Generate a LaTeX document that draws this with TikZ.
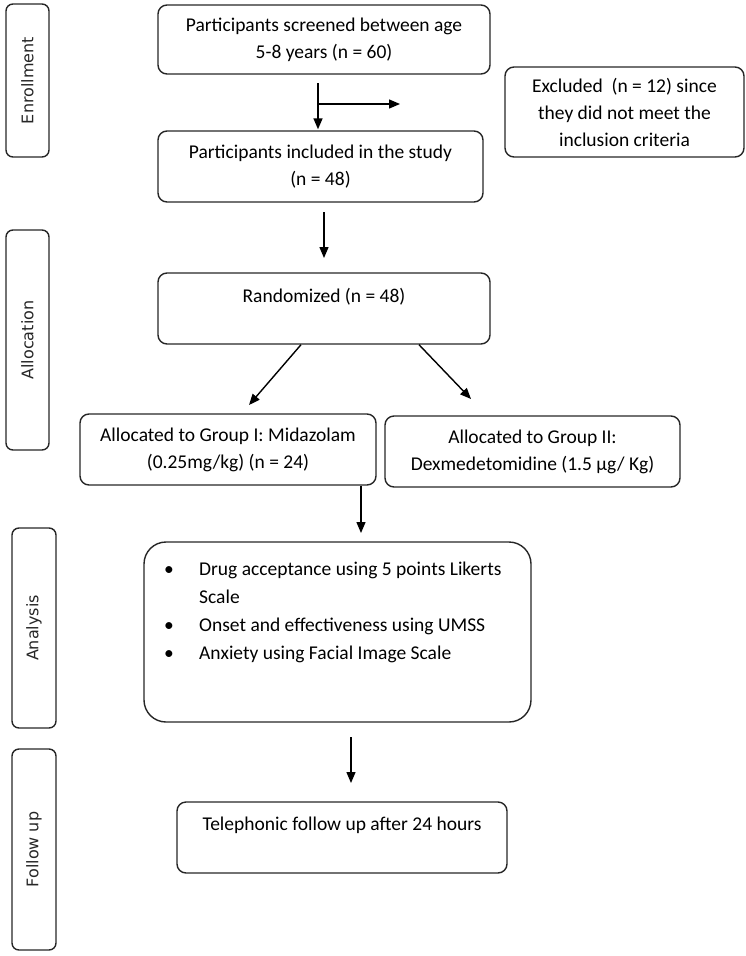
\documentclass[tikz,border=0pt]{standalone}
\usepackage{fontspec}
\setmainfont{Carlito}
\newfontfamily\sidefont{DejaVu Sans}
\usetikzlibrary{arrows.meta}
\begin{document}
\begin{tikzpicture}[x=1pt,y=-1pt,
  box/.style={draw=black!85, line width=1.4pt, rounded corners=9pt, align=center, inner sep=0pt,
    font=\fontsize{19.5}{27}\selectfont},
  side/.style={draw=black!85, line width=1.4pt, rounded corners=7pt, inner sep=0pt, rotate=90,
    font=\sidefont\fontsize{16}{18}\selectfont, text=black!85},
  arr/.style={line width=1.4pt, draw=black, -{Triangle[length=11pt,width=9pt]}}]
\useasboundingbox (0,0) rectangle (746,956);

% side labels
\node[side, minimum width=153pt, minimum height=43pt] (senr) at (27.5,80.5) {Enrollment};
\node[side, minimum width=220pt, minimum height=43pt] (sall) at (27.5,340) {Allocation};
\node[side, minimum width=200pt, minimum height=44pt] (sana) at (34,628) {Analysis};
\node[side, minimum width=201pt, minimum height=44pt] (sfol) at (34,849.5) {Follow up};

% main boxes
\node[box, minimum width=332pt, minimum height=69pt] (b1) at (324,39.5)
  {Participants screened between age\\5-8 years (n = 60)};
\node[box, minimum width=239pt, minimum height=90pt] (excl) at (624.5,112)
  {Excluded\ \ (n = 12) since\\they did not meet the\\inclusion criteria};
\node[box, minimum width=325pt, minimum height=71pt] (b2) at (320.5,166.5)
  {Participants included in the study\\(n = 48)};
\node[box, minimum width=332pt, minimum height=71pt] (rand) at (324,308.5)
  {Randomized (n = 48)\\\phantom{X}};
\node[box, minimum width=296pt, minimum height=71pt] (g1) at (228,449.5)
  {Allocated to Group I: Midazolam\\(0.25mg/kg) (n = 24)};
\node[box, minimum width=295pt, minimum height=71pt] (g2) at (532.5,451.5)
  {Allocated to Group II:\\Dexmedetomidine (1.5 µg/ Kg)};
\node[box, rounded corners=22pt, minimum width=387pt, minimum height=180pt] (anal) at (337.5,632) {};
\node[anchor=north west, inner sep=0pt, font=\fontsize{19.5}{28}\selectfont] (list) at (164,556)
  {\begin{tabular}{@{}p{35pt}@{}l@{}}
   • & Drug acceptance using 5 points Likerts\\
     & Scale\\
   • & Onset and effectiveness using UMSS\\
   • & Anxiety using Facial Image Scale
   \end{tabular}};
\node[box, minimum width=330pt, minimum height=71pt] (tel) at (342,837.5)
  {Telephonic follow up after 24 hours\\\phantom{X}};

% connectors
\coordinate (a1s) at (318,83);
\draw[arr, shorten >=1pt] (a1s) -- (a1s |- b2.north);
\coordinate (a1h) at (318,104);
\coordinate (a1e) at (400,104);
\draw[arr] (a1h) -- (a1e);

\coordinate (a2s) at (324,212);
\coordinate (a2e) at (324,258);
\draw[arr] (a2s) -- (a2e);

\coordinate (x301) at (301,0);
\coordinate (x419) at (419,0);
\coordinate (a3le) at (249,405);
\coordinate (a3re) at (471,399);
\draw[arr] (rand.south -| x301) -- (a3le);
\draw[arr] (rand.south -| x419) -- (a3re);

\coordinate (x361) at (361,0);
\coordinate (a4e) at (361,533);
\draw[arr] (g1.south -| x361) -- (a4e);

\coordinate (a5s) at (351,737);
\coordinate (a5e) at (351,783);
\draw[arr] (a5s) -- (a5e);
\end{tikzpicture}
\end{document}
